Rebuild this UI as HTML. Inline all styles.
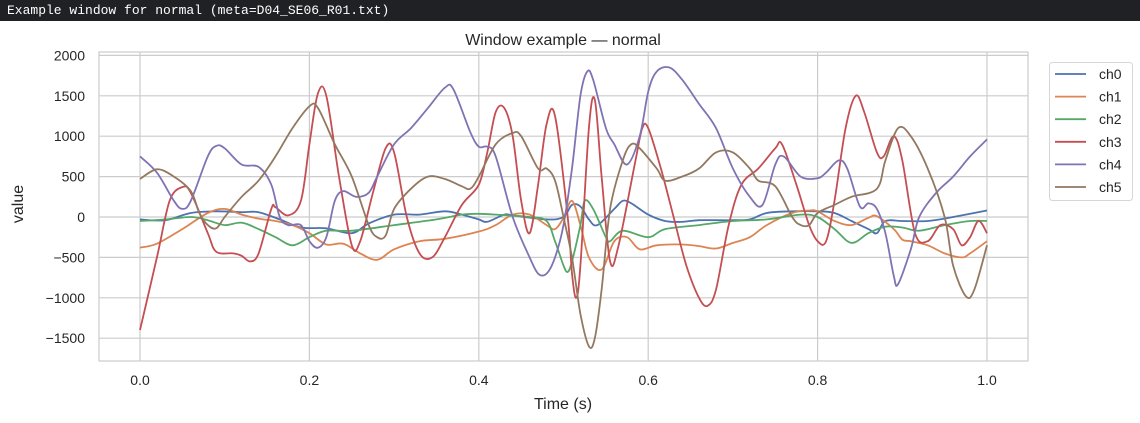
<!DOCTYPE html>
<html><head><meta charset="utf-8">
<style>
body{margin:0;background:#fff;width:1140px;height:423px;overflow:hidden;font-family:"Liberation Sans",sans-serif}
#hdr{position:absolute;left:0;top:0;width:1140px;height:21px;background:#202124;color:#fff;font-family:"Liberation Mono",monospace;font-size:13px;line-height:21px;padding-left:7px;box-sizing:border-box}
svg{position:absolute;left:0;top:0}
</style></head><body>
<div id="hdr">Example window for normal (meta=D04_SE06_R01.txt)</div>
<svg id="chart" width="1140" height="423"></svg>
<script>
const seriesNames=["ch0","ch1","ch2","ch3","ch4","ch5"];
const colors=["#4c72b0","#dd8452","#55a868","#c44e52","#8172b3","#937860"];
const xTicks=[0,0.2,0.4,0.6,0.8,1.0];
const xTickLabels=["0.0","0.2","0.4","0.6","0.8","1.0"];
const yTicks=[-1500,-1000,-500,0,500,1000,1500,2000];
const yTickLabels=["\u22121500","\u22121000","\u2212500","0","500","1000","1500","2000"];
const ch0T=[0,0.03,0.06,0.09,0.12,0.14,0.165,0.19,0.22,0.25,0.27,0.3,0.33,0.36,0.38,0.4,0.41,0.43,0.44,0.48,0.5,0.51,0.52,0.53,0.54,0.56,0.57,0.58,0.6,0.62,0.64,0.66,0.7,0.72,0.74,0.77,0.8,0.82,0.84,0.86,0.87,0.88,0.9,0.93,0.96,1.0];
const ch0V=[-30,-40,50,70,60,60,-30,-130,-140,-200,-80,30,30,70,30,-30,-60,30,20,-30,0,150,130,-30,-100,100,200,170,30,-50,-60,-40,-40,-30,50,70,70,50,-50,-150,-200,-50,-50,-50,0,80];
const ch1T=[0,0.02,0.05,0.08,0.1,0.12,0.14,0.16,0.18,0.2,0.22,0.24,0.26,0.28,0.3,0.33,0.36,0.4,0.42,0.44,0.46,0.48,0.49,0.5,0.51,0.52,0.53,0.545,0.56,0.575,0.59,0.61,0.64,0.66,0.68,0.7,0.72,0.74,0.77,0.79,0.8,0.82,0.84,0.86,0.87,0.89,0.9,0.91,0.93,0.95,0.97,0.98,1.0];
const ch1V=[-380,-330,-150,50,100,30,-20,-50,-100,-200,-340,-330,-450,-530,-400,-300,-270,-180,-100,30,30,-100,-150,-10,200,-100,-500,-650,-300,-250,-400,-350,-340,-360,-390,-320,-250,-100,50,80,70,-50,-100,-10,10,-150,-280,-300,-350,-450,-500,-450,-300];
const ch2T=[0,0.03,0.06,0.08,0.1,0.12,0.14,0.16,0.18,0.2,0.22,0.25,0.3,0.35,0.38,0.4,0.42,0.46,0.48,0.49,0.5,0.505,0.51,0.52,0.525,0.535,0.55,0.555,0.57,0.6,0.62,0.66,0.7,0.74,0.78,0.8,0.82,0.84,0.86,0.88,0.9,0.92,0.95,0.98,1.0];
const ch2V=[-50,-30,0,-40,-100,-70,-150,-250,-350,-250,-170,-170,-100,-30,30,40,30,0,-50,-300,-600,-680,-550,-100,200,100,-250,-300,-170,-250,-150,-100,-50,-30,30,0,-150,-320,-200,-120,-130,-170,-100,-50,-50];
const ch3T=[0,0.02,0.035,0.05,0.06,0.08,0.09,0.11,0.12,0.13,0.14,0.155,0.16,0.175,0.19,0.2,0.21,0.22,0.235,0.25,0.26,0.275,0.29,0.3,0.315,0.33,0.345,0.36,0.38,0.4,0.41,0.42,0.43,0.44,0.45,0.46,0.47,0.48,0.49,0.505,0.51,0.515,0.52,0.53,0.537,0.545,0.555,0.565,0.585,0.593,0.6,0.615,0.63,0.645,0.66,0.67,0.68,0.695,0.71,0.73,0.75,0.758,0.775,0.79,0.8,0.81,0.82,0.833,0.845,0.855,0.87,0.878,0.89,0.9,0.915,0.93,0.945,0.96,0.97,0.98,0.99,1.0];
const ch3V=[-1400,-500,200,370,300,-200,-430,-450,-480,-550,-450,100,120,20,200,900,1530,1500,500,-350,-300,300,850,800,0,-450,-500,-250,150,400,800,1300,1350,1000,200,-200,400,1150,1250,0,-700,-1000,-600,1100,1450,500,-550,-350,700,1100,1100,600,0,-600,-1000,-1100,-900,-100,400,600,850,900,400,-100,-300,-300,200,1100,1500,1300,800,750,1000,700,-200,-300,-100,-150,-350,-250,-50,-200];
const ch4T=[0,0.02,0.04,0.05,0.06,0.08,0.09,0.1,0.12,0.14,0.155,0.165,0.175,0.19,0.2,0.21,0.22,0.23,0.24,0.255,0.27,0.28,0.3,0.32,0.34,0.36,0.37,0.39,0.4,0.41,0.42,0.44,0.46,0.47,0.48,0.49,0.5,0.51,0.52,0.528,0.535,0.55,0.56,0.575,0.59,0.6,0.61,0.625,0.64,0.66,0.68,0.7,0.72,0.735,0.75,0.76,0.78,0.8,0.81,0.825,0.835,0.85,0.86,0.87,0.88,0.89,0.895,0.91,0.92,0.94,0.96,0.98,1.0];
const ch4V=[750,550,200,100,200,750,880,850,650,620,400,0,-100,-100,-300,-380,-250,200,320,250,300,500,900,1100,1350,1600,1580,1050,870,870,750,0,-500,-700,-700,-500,-100,600,1500,1800,1700,1100,900,650,1000,1550,1800,1850,1700,1400,1100,600,250,150,650,750,500,480,550,700,600,130,170,100,-200,-730,-830,-400,0,300,500,750,960];
const ch5T=[0,0.02,0.04,0.06,0.07,0.08,0.09,0.1,0.12,0.14,0.16,0.18,0.2,0.21,0.23,0.25,0.27,0.28,0.29,0.3,0.32,0.34,0.36,0.38,0.39,0.4,0.42,0.44,0.45,0.47,0.48,0.49,0.5,0.51,0.52,0.53,0.537,0.545,0.555,0.57,0.58,0.59,0.61,0.62,0.64,0.66,0.68,0.7,0.72,0.73,0.75,0.77,0.78,0.79,0.8,0.82,0.84,0.87,0.88,0.895,0.91,0.93,0.95,0.96,0.975,0.985,1.0];
const ch5V=[470,590,500,320,50,-100,-140,0,250,450,750,1100,1370,1350,900,500,-100,-250,-230,100,350,500,470,380,350,500,900,1040,1000,600,600,450,0,-500,-1200,-1600,-1500,-900,100,700,900,850,600,450,500,600,800,800,600,450,380,0,-100,-100,50,150,250,350,700,1100,1000,600,0,-600,-980,-900,-350];

const T=[ch0T,ch1T,ch2T,ch3T,ch4T,ch5T], V=[ch0V,ch1V,ch2V,ch3V,ch4V,ch5V];
const L=99,R=1028,Top=52,B=361;
const xs=t=>140+t*847;
const ys=v=>217-v*40.4/500;
const svg=document.getElementById('chart');
const NS='http://www.w3.org/2000/svg';
function mk(tag,attrs,parent){const e=document.createElementNS(NS,tag);for(const k in attrs)e.setAttribute(k,attrs[k]);(parent||svg).appendChild(e);return e;}

const ttl=mk('text',{x:563,y:45,'text-anchor':'middle','font-size':16,fill:'#262626'});
ttl.textContent='Window example \u2014 normal';


const frame=mk('rect',{x:L,y:Top,width:R-L,height:B-Top,fill:'#fff',stroke:'#cccccc','stroke-width':1.2});


xTicks.forEach((t,i)=>{
  const g=mk('line',{x1:xs(t),x2:xs(t),y1:Top,y2:B,stroke:'#cccccc','stroke-width':1.2});
  
  
  const tx=mk('text',{x:xs(t),y:385,'text-anchor':'middle','font-size':14,fill:'#262626'});
  tx.textContent=xTickLabels[i];
  
  
});
yTicks.forEach((v,i)=>{
  const g=mk('line',{x1:L,x2:R,y1:ys(v),y2:ys(v),stroke:'#cccccc','stroke-width':1.2});
  
  
  const tx=mk('text',{x:85,y:ys(v)+5,'text-anchor':'end','font-size':14,fill:'#262626'});
  tx.textContent=yTickLabels[i];
  
  
});
const xt=mk('text',{x:563,y:409,'text-anchor':'middle','font-size':16,fill:'#262626'});
xt.textContent='Time (s)';


const yt=mk('text',{x:23,y:204,'text-anchor':'middle','font-size':16,fill:'#262626',transform:'rotate(-90 23 204)'});
yt.textContent='value';



function pathFor(ts,vs){
  const p=ts.map((t,i)=>[xs(t),ys(vs[i])]);
  let d='M'+p[0][0].toFixed(1)+','+p[0][1].toFixed(1);
  for(let i=0;i<p.length-1;i++){
    const p0=p[Math.max(0,i-1)],p1=p[i],p2=p[i+1],p3=p[Math.min(p.length-1,i+2)];
    const c1=[p1[0]+(p2[0]-p0[0])/6,p1[1]+(p2[1]-p0[1])/6];
    const c2=[p2[0]-(p3[0]-p1[0])/6,p2[1]-(p3[1]-p1[1])/6];
    d+=' C'+c1[0].toFixed(1)+','+c1[1].toFixed(1)+' '+c2[0].toFixed(1)+','+c2[1].toFixed(1)+' '+p2[0].toFixed(1)+','+p2[1].toFixed(1);
  }
  return d;
}
seriesNames.forEach((n,i)=>{
  const pa=mk('path',{d:pathFor(T[i],V[i]),fill:'none',stroke:colors[i],'stroke-width':1.8,'stroke-linejoin':'round'});
  
  
});
const lg=mk('g',{});


mk('rect',{x:1049.5,y:62.5,width:83,height:138,rx:3,fill:'#fff',stroke:'#d6d6d6'},lg);
seriesNames.forEach((n,i)=>{
  const y=74+i*22.6;
  const e=mk('g',{},lg);
  
  
  mk('line',{x1:1055,x2:1086,y1:y,y2:y,stroke:colors[i],'stroke-width':1.8},e);
  const t=mk('text',{x:1099,y:y+5,'font-size':14,fill:'#262626'},e);
  t.textContent=n;
});
</script>
</body></html>
